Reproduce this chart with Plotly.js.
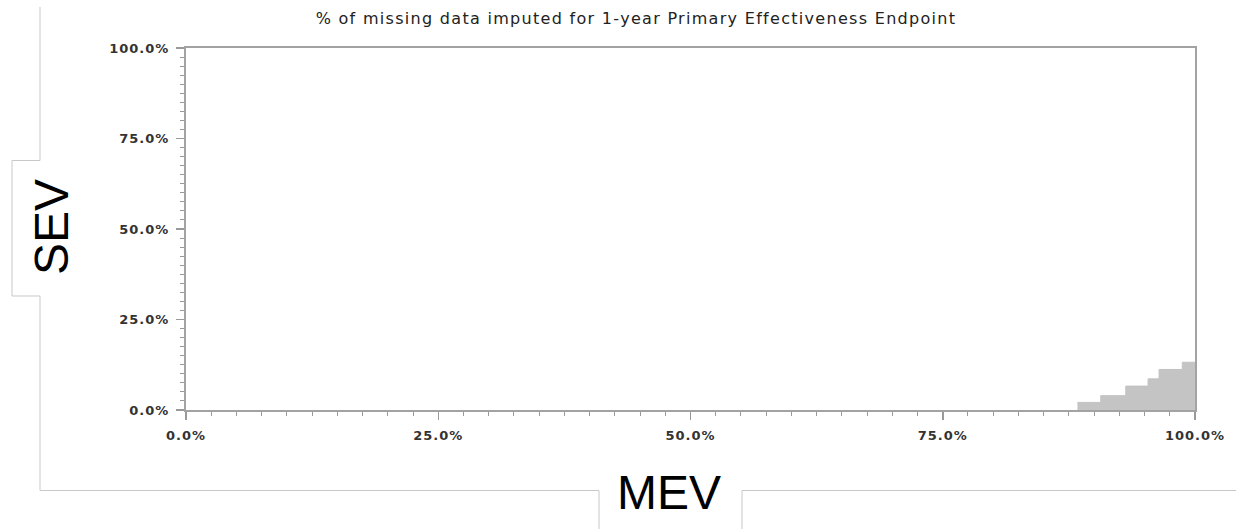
<!DOCTYPE html>
<html>
<head>
<meta charset="utf-8">
<script src="https://cdn.plot.ly/plotly-3.0.1.min.js"></script>
<style>
html,body{margin:0;padding:0;background:#fff;}
#chart{width:1236px;height:529px;}
#chart .gtitle{letter-spacing:1.3px;}
#chart .xtick text, #chart .ytick text{letter-spacing:1px;}
</style>
</head>
<body>
<div id="chart"></div>
<script>
// MEV bin edges (%), SEV step heights (%)
const mevEdges = [88.35, 90.66, 93.14, 95.35, 96.44, 98.74, 100];
const sevValues = [2.1, 3.95, 6.6, 8.6, 11.2, 13.2];
const tickVals = [0, 25, 50, 75, 100];
const tickText = ["0.0%", "25.0%", "50.0%", "75.0%", "100.0%"];
const titleText = "% of missing data imputed for 1-year Primary Effectiveness Endpoint";
const xLabel = "MEV";
const yLabel = "SEV";

const W = 1236, H = 529;
const M = {l: 186, r: 41, t: 48, b: 119};
const pw = W - M.l - M.r, ph = H - M.t - M.b;
const px = x => (x - M.l) / pw;
const py = y => (H - M.b - y) / ph;

const stepY = sevValues.concat([sevValues[sevValues.length - 1]]);

const trace = {
  type: 'scatter', mode: 'lines',
  x: mevEdges, y: stepY,
  line: {shape: 'hv', color: '#c2c2c2', width: 1},
  fill: 'tozeroy', fillcolor: '#c4c4c4',
  hoverinfo: 'skip', showlegend: false
};

const boxPts = [[40,7],[40,160.5],[12,160.5],[12,296],[40,296],[40,490.5],[599,490.5],[599,529]];
const boxPts2 = [[742,529],[742,490.5],[1236,490.5]];
function pathOf(pts){ return pts.map((p,i)=> (i? 'L':'M') + px(p[0]).toFixed(5) + ',' + py(p[1]).toFixed(5)).join(' '); }

const axisCommon = {
  range: [0, 100], showgrid: false, zeroline: false,
  showline: true, mirror: true, linecolor: '#a3a3a3', linewidth: 2,
  ticks: 'outside', ticklen: 8, tickwidth: 1.5, tickcolor: '#999',
  tickmode: 'array', tickvals: tickVals, ticktext: tickText,
  tickfont: {family: 'DejaVu Sans', size: 13, color: '#333', weight: 'bold'},
  minor: {dtick: 2.5, ticks: 'outside', ticklen: 4, tickwidth: 1, tickcolor: '#999', showgrid: false},
  fixedrange: true
};

const layout = {
  width: W, height: H,
  margin: M,
  paper_bgcolor: '#fff', plot_bgcolor: '#fff',
  title: {text: titleText, x: 636/W, xanchor: 'center', y: 1 - 18/H, yanchor: 'middle',
          font: {family: 'DejaVu Sans', size: 16, color: '#222'}},
  xaxis: Object.assign({}, axisCommon, {ticklabelstandoff: 4}),
  yaxis: Object.assign({}, axisCommon, {ticklabelstandoff: 4}),
  shapes: [
    {type: 'path', xref: 'paper', yref: 'paper', path: pathOf(boxPts), line: {color: '#c8c8c8', width: 1}},
    {type: 'path', xref: 'paper', yref: 'paper', path: pathOf(boxPts2), line: {color: '#c8c8c8', width: 1}}
  ],
  annotations: [
    {text: yLabel, xref: 'paper', yref: 'paper', x: px(51), y: py(227), xanchor: 'center', yanchor: 'middle',
     textangle: -90, showarrow: false, font: {family: 'Liberation Sans', size: 48, color: '#000'}},
    {text: xLabel, xref: 'paper', yref: 'paper', x: px(669), y: py(492), xanchor: 'center', yanchor: 'middle',
     showarrow: false, font: {family: 'Liberation Sans', size: 48, color: '#000'}}
  ]
};

Plotly.newPlot('chart', [trace], layout, {displayModeBar: false, staticPlot: true});
</script>
</body>
</html>
